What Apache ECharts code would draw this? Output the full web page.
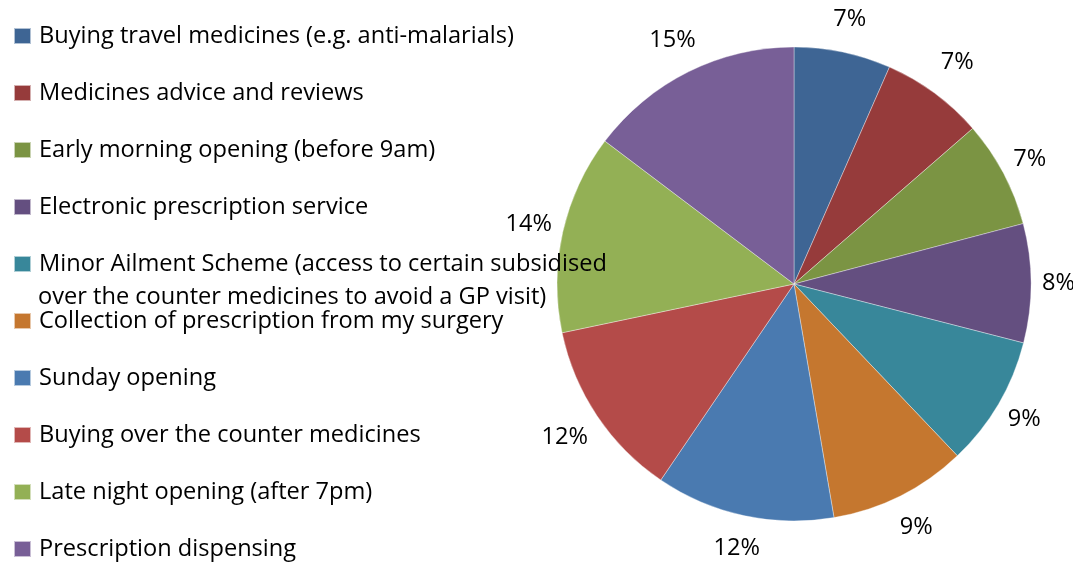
<!DOCTYPE html>
<html>
<head>
<meta charset="utf-8">
<script src="https://cdn.jsdelivr.net/npm/echarts@6/dist/echarts.min.js"></script>
<style>
  html, body { margin: 0; padding: 0; background: #fff; }
  #chart { width: 1073px; height: 564px; }
</style>
</head>
<body>
<div id="chart"></div>
<script>
const services = [
  'Buying travel medicines (e.g. anti-malarials)',
  'Medicines advice and reviews',
  'Early morning opening (before 9am)',
  'Electronic prescription service',
  'Minor Ailment Scheme (access to certain subsidised over the counter medicines to avoid a GP visit)',
  'Collection of prescription from my surgery',
  'Sunday opening',
  'Buying over the counter medicines',
  'Late night opening (after 7pm)',
  'Prescription dispensing'
];
// slice sizes; labels show them rounded
const shares = [6.6, 7.0, 7.3, 8.1, 8.9, 9.4, 12.2, 12.2, 13.6, 14.7];
const colors = ['#3e6594', '#963b3b', '#7b9443', '#644f80', '#38879a',
                '#c5772f', '#4a7ab0', '#b44b49', '#93b055', '#785f97'];

const FONT = 'Open Sans';
const FS = 23.6;
const CX = 794, CY = 284, R = 237;
const total = shares.reduce((a, b) => a + b, 0);

// midpoint angle of each slice, clockwise from 12 o'clock
function midAngle(i) {
  let before = 0;
  for (let k = 0; k < i; k++) before += shares[k];
  return (before + shares[i] / 2) / total * Math.PI * 2;
}

const legends = services.map((name, i) => ({
  data: [name],
  left: 13,
  top: 36 + 57 * i - 13,
  padding: 0,
  itemWidth: 17,
  itemHeight: 16,
  icon: 'rect',
  selectedMode: false,
  formatter: n => n.indexOf('Minor Ailment') === 0
    ? 'Minor Ailment Scheme (access to certain subsidised' : n,
  textStyle: { fontFamily: FONT, fontSize: FS, color: '#000', lineHeight: 26, padding: [0, 0, 0, 3] }
}));

const option = {
  animation: false,
  color: colors,
  legend: legends,
  graphic: [{
    type: 'text',
    left: 38,
    top: 297 - 13,
    z: 100,
    style: {
      text: 'over the counter medicines to avoid a GP visit)',
      fontFamily: FONT, fontSize: FS, fill: '#000', lineHeight: 26
    }
  }],
  series: [{
    type: 'pie',
    center: [CX, CY],
    radius: [0, R],
    startAngle: 90,
    clockwise: true,
    avoidLabelOverlap: false,
    itemStyle: { borderColor: 'rgba(255,255,255,0.6)', borderWidth: 0.6 },
    emphasis: { disabled: true },
    label: {
      show: true,
      position: 'outside',
      formatter: p => Math.round(p.value) + '%',
      fontFamily: FONT, fontSize: FS, color: '#000'
    },
    labelLine: { show: false },
    labelLayout: p => {
      const a = midAngle(p.dataIndex);
      const s = Math.abs(Math.sin(a)), c = Math.abs(Math.cos(a));
      const half = Math.min(p.labelRect.width / 2 / (s || 1e-6), 22 / (c || 1e-6));
      const d = R + 11 + half;
      return {
        x: CX + Math.sin(a) * d,
        y: CY - Math.cos(a) * d,
        align: 'center',
        verticalAlign: 'middle'
      };
    },
    data: services.map((name, i) => ({ name, value: shares[i] }))
  }]
};

const chart = echarts.init(document.getElementById('chart'));
chart.setOption(option);
</script>
</body>
</html>
